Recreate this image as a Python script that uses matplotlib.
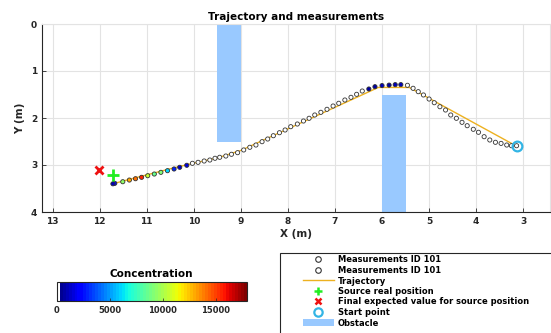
import numpy as np
import matplotlib
matplotlib.use("Agg")
import matplotlib.pyplot as plt
from matplotlib.colors import ListedColormap
from matplotlib.lines import Line2D
from matplotlib.patches import Patch, Rectangle
import matplotlib.cm as cm

plt.rcParams['font.family'] = ['DejaVu Sans']
plt.rcParams['font.weight'] = 'bold'

# ---- data ----
meas_x = [3.14, 3.25, 3.35, 3.47, 3.59, 3.71, 3.83, 3.95, 4.06, 4.19, 4.30, 4.42, 4.54, 4.65,
          4.77, 4.89, 5.00, 5.12, 5.23, 5.34, 5.46, 5.60, 5.72, 5.85, 6.00, 6.15, 6.28, 6.42,
          6.54, 6.66, 6.79, 6.92, 7.04, 7.17, 7.30, 7.43, 7.55, 7.67, 7.80, 7.94, 8.06, 8.18,
          8.31, 8.43, 8.55, 8.68, 8.81, 8.94, 9.07, 9.20, 9.32, 9.45, 9.55, 9.66, 9.78, 9.91,
          10.03, 10.15, 10.30, 10.42, 10.56, 10.70, 10.84, 10.98, 11.11, 11.24, 11.37, 11.51,
          11.68, 11.72]
meas_y = [2.59, 2.59, 2.575, 2.54, 2.517, 2.468, 2.398, 2.304, 2.24, 2.164, 2.092, 2.006, 1.936,
          1.83, 1.76, 1.675, 1.596, 1.51, 1.44, 1.368, 1.304, 1.29, 1.29, 1.30, 1.31, 1.334, 1.383,
          1.426, 1.496, 1.56, 1.617, 1.687, 1.745, 1.815, 1.879, 1.936, 2.006, 2.064, 2.128, 2.185,
          2.255, 2.313, 2.377, 2.447, 2.504, 2.575, 2.623, 2.68, 2.738, 2.772, 2.809, 2.836, 2.857,
          2.894, 2.915, 2.943, 2.964, 3.006, 3.049, 3.085, 3.121, 3.156, 3.192, 3.228, 3.262,
          3.292, 3.32, 3.356, 3.39, 3.40]
meas_conc = [0, 0, 0, 0, 0, 0, 0, 0, 0, 0, 0, 0, 0, 0,
             0, 0, 0, 0, 0, 0, 0, 900, 1000, 800, 1100, 700, 600, 0,
             0, 0, 0, 0, 0, 0, 0, 0, 0, 0, 0, 0, 0, 0,
             0, 0, 0, 0, 0, 0, 0, 0, 0, 0, 0, 0, 0, 0,
             0, 1500, 1200, 3000, 6000, 9000, 8500, 10500, 15500, 14000, 13000, 9500,
             2500, 1000]

traj_x = [3.14, 5.42, 6.08, 9.0, 9.5, 10.0, 10.5, 11.0, 11.5, 11.72]
traj_y = [2.6, 1.35, 1.35, 2.69, 2.85, 2.96, 3.08, 3.21, 3.34, 3.40]

source_real = (11.71, 3.21)
source_est = (12.02, 3.10)
start_point = (3.14, 2.6)

obstacles = [(9.0, 0.0, 0.5, 2.5), (5.5, 1.5, 0.5, 2.5)]  # x, y, width, height

conc_max = 17900
xticks = [13, 12, 11, 10, 9, 8, 7, 6, 5, 4, 3]
yticks = [0, 1, 2, 3, 4]
cbar_ticks = [0, 5000, 10000, 15000]

# ---- colormap: jet with white lowest ----
jet = plt.get_cmap('jet', 64)(np.linspace(0, 1, 64))
jet[0] = [1, 1, 1, 1]
cmap = ListedColormap(jet)

fig = plt.figure(figsize=(5.51, 3.33), dpi=100)
ax = fig.add_axes([42/551, 1-212/333, 508/551, 188/333])

obst_color = '#99c9ff'
for (ox, oy, ow, oh) in obstacles:
    ax.add_patch(Rectangle((ox, oy), ow, oh, facecolor=obst_color, edgecolor='none', zorder=2))

traj_color = '#EDB120'
ax.plot(traj_x, traj_y, color=traj_color, lw=1.0, zorder=3)
ax.scatter(meas_x, meas_y, c=meas_conc, cmap=cmap, vmin=0, vmax=conc_max, s=9,
           edgecolors='#333333', linewidths=0.6, zorder=4)
ax.plot(*source_real, marker='+', color='#22ee22', ms=8, mew=2, zorder=5)
ax.plot(*source_est, marker='x', color='#ee1111', ms=6, mew=2, zorder=5)
start_color = '#33b5e5'
ax.plot(*start_point, marker='o', mfc='none', mec=start_color, ms=7, mew=1.6, zorder=5)

ax.set_xlim(13.227, 2.43)
ax.set_ylim(4, 0)
ax.set_xticks(xticks)
ax.set_yticks(yticks)
ax.grid(True, color='#e3e3e3', lw=0.8)
ax.set_axisbelow(True)
ax.tick_params(direction='in', length=3, width=0.6, colors='#262626', labelsize=6.5,
               top=False, right=False)
for lab in ax.get_xticklabels() + ax.get_yticklabels():
    lab.set_fontweight('bold')
ax.spines['left'].set_color('#262626')
ax.spines['bottom'].set_color('#262626')
ax.spines['top'].set_color('#e3e3e3')
ax.spines['right'].set_color('#e3e3e3')
for s in ax.spines.values():
    s.set_linewidth(0.8)
ax.set_xlabel('X (m)', fontsize=7.5, fontweight='bold', color='#262626', labelpad=2)
ax.set_ylabel('Y (m)', fontsize=7.5, fontweight='bold', color='#262626', labelpad=4)
ax.set_title('Trajectory and measurements', fontsize=7.5, fontweight='bold', color='#000000', pad=3)

# ---- colorbar ----
cax = fig.add_axes([56.7/551, 1-300.7/333, 190/551, 18.4/333])
sm = cm.ScalarMappable(cmap=cmap, norm=plt.Normalize(0, conc_max))
cb = fig.colorbar(sm, cax=cax, orientation='horizontal')
cb.set_ticks(cbar_ticks)
cb.ax.tick_params(direction='in', length=2, width=0.5, colors='#262626', labelsize=6)
for lab in cb.ax.get_xticklabels():
    lab.set_fontweight('bold')
cb.outline.set_edgecolor('#262626')
cb.outline.set_linewidth(0.8)
cb.ax.set_title('Concentration', fontsize=7.5, fontweight='bold', pad=4)

# ---- legend ----
fig.patches.append(Rectangle((280/551, -0.05), 0.6, (333-253.3)/333 + 0.05,
                             transform=fig.transFigure, facecolor='white',
                             edgecolor='#262626', lw=0.8, clip_on=False))
handles = [
    Line2D([], [], ls='none', marker='o', mfc='white', mec='#333333', ms=4, mew=0.8),
    Line2D([], [], ls='none', marker='o', mfc='white', mec='#333333', ms=4, mew=0.8),
    Line2D([], [], color=traj_color, lw=1.0),
    Line2D([], [], ls='none', marker='+', color='#22ee22', ms=6, mew=1.8),
    Line2D([], [], ls='none', marker='x', color='#ee1111', ms=4.5, mew=1.8),
    Line2D([], [], ls='none', marker='o', mfc='none', mec=start_color, ms=6, mew=1.6),
    Patch(facecolor=obst_color, edgecolor='none'),
]
labels = ['Measurements ID 101', 'Measurements ID 101', 'Trajectory', 'Source real position',
          'Final expected value for source position', 'Start point', 'Obstacle']
leg = fig.legend(handles, labels, loc='upper left', bbox_to_anchor=(303/551, (333-255.5)/333),
                 frameon=False, fontsize=6, borderpad=0, borderaxespad=0,
                 handlelength=3.7, handletextpad=0.5, labelspacing=0.18, handleheight=0.9)
for t in leg.get_texts():
    t.set_fontweight('bold')

fig.savefig('out.png', dpi=100)
